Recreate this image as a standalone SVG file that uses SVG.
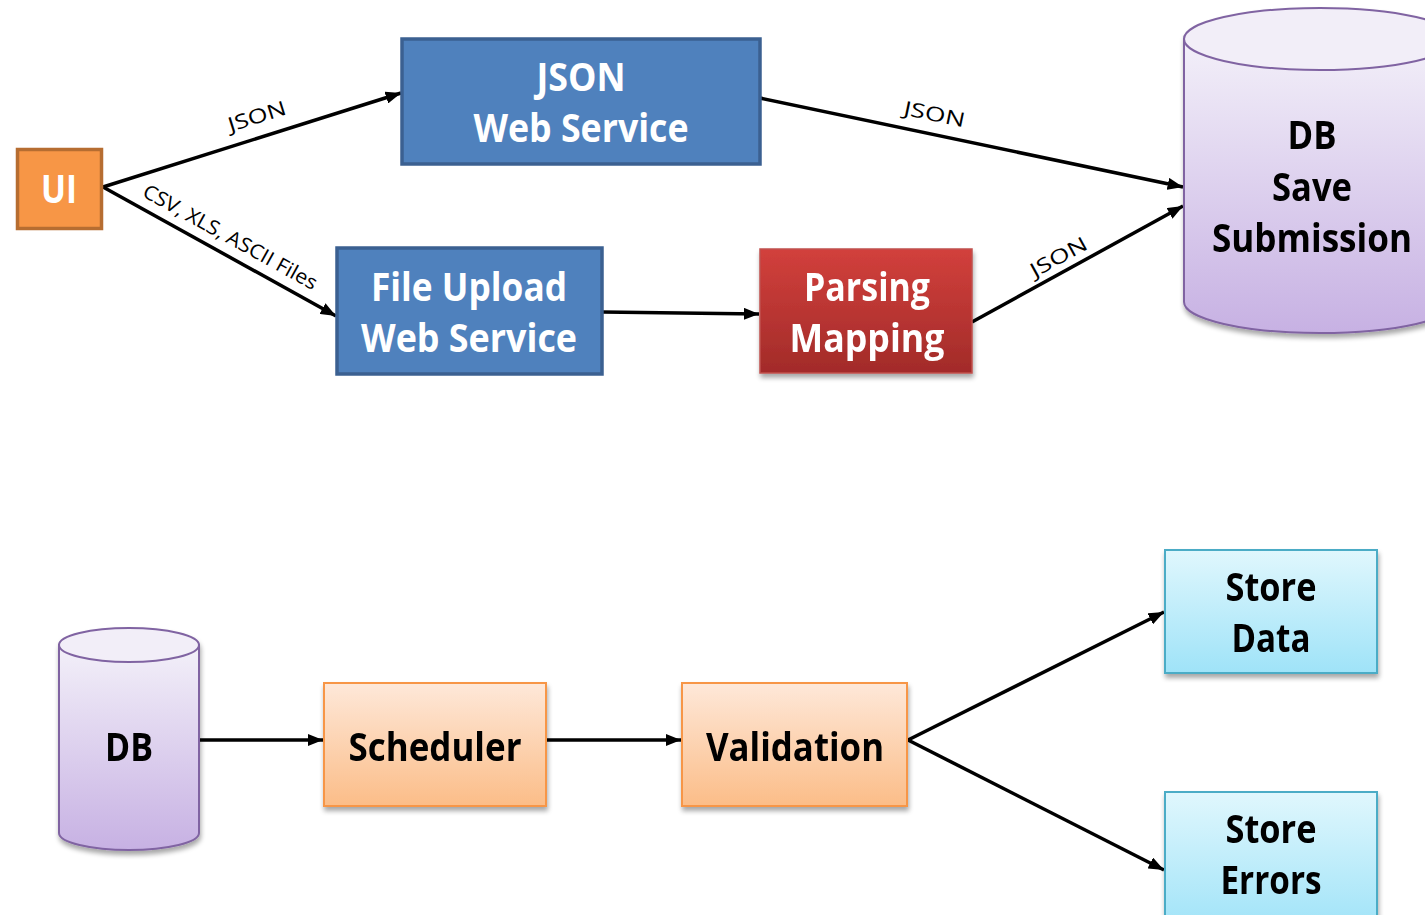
<svg xmlns="http://www.w3.org/2000/svg" width="1425" height="915" viewBox="0 0 1425 915">
  <defs>
    <linearGradient id="gRed" x1="0" y1="0" x2="0" y2="1">
      <stop offset="0" stop-color="#D2403C"/>
      <stop offset="1" stop-color="#A22B29"/>
    </linearGradient>
    <linearGradient id="gPeach" x1="0" y1="0" x2="0" y2="1">
      <stop offset="0" stop-color="#FEE8D9"/>
      <stop offset="1" stop-color="#FBBD88"/>
    </linearGradient>
    <linearGradient id="gCyan" x1="0" y1="0" x2="0" y2="1">
      <stop offset="0" stop-color="#E0F7FD"/>
      <stop offset="1" stop-color="#9FE3F8"/>
    </linearGradient>
    <linearGradient id="gPurple" x1="0" y1="0" x2="0" y2="1">
      <stop offset="0" stop-color="#F3F0F9"/>
      <stop offset="1" stop-color="#C7B1E3"/>
    </linearGradient>
    <filter id="shadow" x="-10%" y="-10%" width="130%" height="130%">
      <feGaussianBlur in="SourceAlpha" stdDeviation="2.5"/>
      <feOffset dx="1" dy="4" result="b"/>
      <feComponentTransfer><feFuncA type="linear" slope="0.35"/></feComponentTransfer>
      <feMerge><feMergeNode/><feMergeNode in="SourceGraphic"/></feMerge>
    </filter>
    <marker id="arrow" viewBox="0 0 10 10" refX="10" refY="5" markerWidth="4.4" markerHeight="3.5" orient="auto" markerUnits="strokeWidth" preserveAspectRatio="none">
      <path d="M0,0 L10,5 L0,10 Z" fill="#000"/>
    </marker>
    <style>
      .big { font-family: "Open Sans", "Liberation Sans", sans-serif; font-weight: 700; font-size: 40px; text-anchor: middle; }
      .white { fill: #FFFFFF; }
      .black { fill: #000000; }
      .lbl { font-family: "Open Sans", "Liberation Sans", sans-serif; font-size: 20px; text-anchor: middle; fill: #000; }
      .conn { stroke: #000; stroke-width: 3.5; fill: none; marker-end: url(#arrow); }
    </style>
  </defs>

  <rect width="1425" height="915" fill="#FFFFFF"/>

  <!-- connectors -->
  <g id="connectors">
    <line class="conn" x1="103" y1="187" x2="401" y2="93"/>
    <line class="conn" x1="103" y1="187" x2="336" y2="316"/>
    <line class="conn" x1="760" y1="98" x2="1183" y2="187"/>
    <line class="conn" x1="602" y1="312" x2="759" y2="314"/>
    <line class="conn" x1="972" y1="322" x2="1183" y2="206"/>
    <line class="conn" x1="199" y1="740" x2="323" y2="740"/>
    <line class="conn" x1="547" y1="740" x2="681" y2="740"/>
    <line class="conn" x1="908" y1="740" x2="1164" y2="612"/>
    <line class="conn" x1="908" y1="740" x2="1164" y2="870"/>
    <text class="lbl" transform="translate(259,123) rotate(-17.45)" textLength="60" lengthAdjust="spacingAndGlyphs">JSON</text>
    <text class="lbl" transform="translate(227,243) rotate(28.9)" textLength="196" lengthAdjust="spacingAndGlyphs">CSV, XLS, ASCII Files</text>
    <text class="lbl" transform="translate(933,121) rotate(11.85)" textLength="62" lengthAdjust="spacingAndGlyphs">JSON</text>
    <text class="lbl" transform="translate(1062,263) rotate(-28.7)" textLength="62" lengthAdjust="spacingAndGlyphs">JSON</text>
  </g>

  <!-- UI -->
  <g id="ui">
    <rect x="17.5" y="149.5" width="84" height="79" fill="#F79646" stroke="#B66D31" stroke-width="3.5"/>
    <text class="big white" x="59" y="203" textLength="36" lengthAdjust="spacingAndGlyphs">UI</text>
  </g>

  <!-- JSON Web Service -->
  <g id="json-ws">
    <rect x="402" y="39" width="358" height="125" fill="#4F81BD" stroke="#3B6091" stroke-width="3.5"/>
    <text class="big white" x="581" y="91" textLength="89" lengthAdjust="spacingAndGlyphs">JSON</text>
    <text class="big white" x="581" y="142" textLength="215" lengthAdjust="spacingAndGlyphs">Web Service</text>
  </g>

  <!-- File Upload Web Service -->
  <g id="file-upload-ws">
    <rect x="337" y="248" width="265" height="126" fill="#4F81BD" stroke="#3B6091" stroke-width="3.5"/>
    <text class="big white" x="469" y="301" textLength="196" lengthAdjust="spacingAndGlyphs">File Upload</text>
    <text class="big white" x="469" y="352" textLength="216" lengthAdjust="spacingAndGlyphs">Web Service</text>
  </g>

  <!-- Parsing / Mapping -->
  <g id="parsing-mapping" filter="url(#shadow)">
    <rect x="760" y="249" width="212" height="124" fill="url(#gRed)" stroke="#C0504D" stroke-width="1.5"/>
    <text class="big white" x="867" y="301" textLength="126" lengthAdjust="spacingAndGlyphs">Parsing</text>
    <text class="big white" x="867" y="352" textLength="155" lengthAdjust="spacingAndGlyphs">Mapping</text>
  </g>

  <!-- DB Save Submission (cylinder) -->
  <g id="db-save" filter="url(#shadow)">
    <path d="M1184,39 L1184,302 A136,31 0 0 0 1456,302 L1456,39 Z" fill="url(#gPurple)" stroke="#8064A2" stroke-width="2"/>
    <ellipse cx="1320" cy="39" rx="136" ry="31" fill="#F2EEF8" stroke="#8064A2" stroke-width="2"/>
    <text class="big black" x="1312" y="149" textLength="49" lengthAdjust="spacingAndGlyphs">DB</text>
    <text class="big black" x="1312" y="201" textLength="80" lengthAdjust="spacingAndGlyphs">Save</text>
    <text class="big black" x="1312" y="252" textLength="200" lengthAdjust="spacingAndGlyphs">Submission</text>
  </g>

  <!-- DB (cylinder) -->
  <g id="db" filter="url(#shadow)">
    <path d="M59,645 L59,833 A70,17 0 0 0 199,833 L199,645 Z" fill="url(#gPurple)" stroke="#8064A2" stroke-width="2"/>
    <ellipse cx="129" cy="645" rx="70" ry="17" fill="#F2EEF8" stroke="#8064A2" stroke-width="2"/>
    <text class="big black" x="129" y="761" textLength="48" lengthAdjust="spacingAndGlyphs">DB</text>
  </g>

  <!-- Scheduler -->
  <g id="scheduler" filter="url(#shadow)">
    <rect x="324" y="683" width="222" height="123" fill="url(#gPeach)" stroke="#F79646" stroke-width="2"/>
    <text class="big black" x="435" y="761" textLength="173" lengthAdjust="spacingAndGlyphs">Scheduler</text>
  </g>

  <!-- Validation -->
  <g id="validation" filter="url(#shadow)">
    <rect x="682" y="683" width="225" height="123" fill="url(#gPeach)" stroke="#F79646" stroke-width="2"/>
    <text class="big black" x="795" y="761" textLength="178" lengthAdjust="spacingAndGlyphs">Validation</text>
  </g>

  <!-- Store Data -->
  <g id="store-data" filter="url(#shadow)">
    <rect x="1165" y="550" width="212" height="123" fill="url(#gCyan)" stroke="#4BACC6" stroke-width="2"/>
    <text class="big black" x="1271" y="601" textLength="91" lengthAdjust="spacingAndGlyphs">Store</text>
    <text class="big black" x="1271" y="652" textLength="79" lengthAdjust="spacingAndGlyphs">Data</text>
  </g>

  <!-- Store Errors -->
  <g id="store-errors" filter="url(#shadow)">
    <rect x="1165" y="792" width="212" height="140" fill="url(#gCyan)" stroke="#4BACC6" stroke-width="2"/>
    <text class="big black" x="1271" y="843" textLength="91" lengthAdjust="spacingAndGlyphs">Store</text>
    <text class="big black" x="1271" y="894" textLength="101" lengthAdjust="spacingAndGlyphs">Errors</text>
  </g>
</svg>
